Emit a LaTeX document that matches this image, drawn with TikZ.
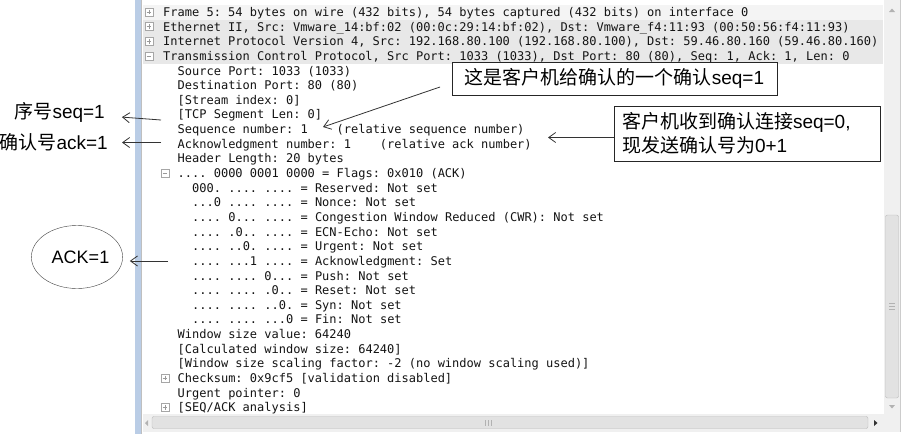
\documentclass[tikz,border=0pt]{standalone}
\usepackage{fontspec}
\setmainfont{Liberation Sans}
\setmonofont{DejaVu Sans Mono}
\newfontfamily\cjk{Noto Sans CJK SC}
\usepackage{xcolor}
\usepackage{tikz}
\usetikzlibrary{
	arrows.meta,
	calc,
	positioning,
	shapes.geometric,
	}
\definecolor{barblue}{HTML}{BACDE6}
\definecolor{rowgray}{HTML}{E8E8E8}
\definecolor{sbtrack}{HTML}{F0F0F0}
\definecolor{sbthumb}{HTML}{E2E2E2}
\newcommand{\lat}[1]{{\rmfamily #1}}
\tikzset{
	pkt/.style={anchor=base west, inner sep=0, font=\fontsize{12}{14}\ttfamily, text=black!92},
	expander/.style={draw=gray!70, fill=white, minimum size=8pt, inner sep=0},
	callout/.style={draw=black!85, fill=white, line width=0.8pt, font=\fontsize{19}{24}\cjk},
	sidelabel/.style={inner sep=0, font=\fontsize{19}{24}\cjk},
	pointer/.style={draw=black!80, line width=0.8pt, -{Straight Barb[length=7pt,width=10pt]}},
	}

\begin{document}
\begin{tikzpicture}[x=1pt, y=-1pt]
		\useasboundingbox (0,0) rectangle (902,434);
		\fill[white] (0,0) rectangle (902,434);
		\fill[barblue] (135,0) rectangle (141.5,434);
		\draw[gray!50] (141.5,0) -- (141.5,434);
		\fill[rowgray!50] (143,5) rectangle (883,19.6);
		\foreach \n in {1,2,3}
			\fill[rowgray] (143,{16.5+14.64*\n-11.5}) rectangle (883,{16.5+14.64*\n+3.1});
		\foreach \n/\x/\txt in {
			0/163/{Frame 5: 54 bytes on wire (432 bits), 54 bytes captured (432 bits) on interface 0},
			1/163/{Ethernet II, Src: Vmware\_14:bf:02 (00:0c:29:14:bf:02), Dst: Vmware\_f4:11:93 (00:50:56:f4:11:93)},
			2/163/{Internet Protocol Version 4, Src: 192.168.80.100 (192.168.80.100), Dst: 59.46.80.160 (59.46.80.160)},
			3/163/{Transmission Control Protocol, Src Port: 1033 (1033), Dst Port: 80 (80), Seq: 1, Ack: 1, Len: 0},
			4/177.5/{Source Port: 1033 (1033)},
			5/177.5/{Destination Port: 80 (80)},
			6/177.5/{[Stream index: 0]},
			7/177.5/{[TCP Segment Len: 0]},
			8/177.5/{Sequence number: 1\ \ \ \ (relative sequence number)},
			9/177.5/{Acknowledgment number: 1\ \ \ \ (relative ack number)},
			10/177.5/{Header Length: 20 bytes},
			11/177.5/{.... 0000 0001 0000 = Flags: 0x010 (ACK)},
			12/192/{000. .... .... = Reserved: Not set},
			13/192/{...0 .... .... = Nonce: Not set},
			14/192/{.... 0... .... = Congestion Window Reduced (CWR): Not set},
			15/192/{.... .0.. .... = ECN-Echo: Not set},
			16/192/{.... ..0. .... = Urgent: Not set},
			17/192/{.... ...1 .... = Acknowledgment: Set},
			18/192/{.... .... 0... = Push: Not set},
			19/192/{.... .... .0.. = Reset: Not set},
			20/192/{.... .... ..0. = Syn: Not set},
			21/192/{.... .... ...0 = Fin: Not set},
			22/177.5/{Window size value: 64240},
			23/177.5/{[Calculated window size: 64240]},
			24/177.5/{[Window size scaling factor: -2 (no window scaling used)]},
			25/177.5/{Checksum: 0x9cf5 [validation disabled]},
			26/177.5/{Urgent pointer: 0},
			27/177.5/{[SEQ/ACK analysis]}}
			\node[pkt] (line\n) at ({\x},{16.5+14.64*\n}) {\txt};
		\foreach \n/\x/\m in {0/149/1, 1/149/1, 2/149/1, 3/149/0, 11/165/0, 25/165/1, 27/165/1} {
			\node[expander] (exp\n) at ({\x},{16.5+14.64*\n-4.5}) {};
			\draw[gray!80, line width=0.6pt] (exp\n.center) +(-2.3,0) -- +(2.3,0);
			\ifnum\m=1 \draw[gray!80, line width=0.6pt] (exp\n.center) +(0,-2.3) -- +(0,2.3); \fi
		}
		\fill[sbtrack] (884,0) rectangle (900,432);
		\fill[sbtrack] (143,414) rectangle (900,432);
		\draw[gray!40] (900,0) -- (900,432);
		\fill[gray!60] (889,12) -- (895,12) -- (892,8.5) -- cycle;
		\fill[gray!60] (889,405) -- (895,405) -- (892,408.5) -- cycle;
		\draw[rounded corners=2pt, draw=gray!55, fill=sbthumb] (885.5,215) rectangle (898.5,398);
		\foreach \yy in {303,306,309}
			\draw[gray!60] (889,\yy) -- (895,\yy);
		\fill[gray!60] (148,420) -- (148,426) -- (145,423) -- cycle;
		\draw[rounded corners=2pt, draw=gray!55, fill=sbthumb] (152,416.5) rectangle (868,428.5);
		\foreach \xx in {485,488,491}
			\draw[gray!60] (\xx,420) -- (\xx,425.5);
		\fill[black!80] (874,420) -- (874,426) -- (877.5,423) -- cycle;
		\node[callout, minimum width=325pt, minimum height=33pt, inner sep=0] (seqnote) at (614.5,78.5) {这是客户机给确认的一个确认\lat{seq=1}};
		\node[callout, text width=250pt, inner xsep=8pt, minimum height=55pt, align=left] (acknote) at (747,133.5) {客户机收到确认连接\lat{seq=0,}\\现发送确认号为\lat{0+1}};
		\node[sidelabel, anchor=east] (seqlbl) at (105,112.5) {序号\lat{seq=1}};
		\node[sidelabel, anchor=east] (acklbl) at (108,142.5) {确认号\lat{ack=1}};
		\node[draw=black!75, ellipse, minimum width=77pt, minimum height=63pt, inner sep=0, font=\fontsize{18}{20}\rmfamily] (ackell) at (77,257) {\hspace*{7pt}\raisebox{-4pt}{ACK=1}};
		\coordinate (seqfrom) at (440,87);
		\coordinate (seqtip) at (323,127);
		\coordinate (acktip) at (548,137.5);
		\coordinate (seqsrc) at (161,120);
		\coordinate (acksrc) at (161,142.5);
		\coordinate (ackflag) at (168,261);
		\draw[pointer] (seqfrom) -- (seqtip);
		\draw[pointer] (acktip -| acknote.west) -- (acktip);
		\draw[pointer, shorten >=17pt] (seqsrc) -- (seqlbl);
		\draw[pointer, shorten >=14pt] (acksrc) -- (acklbl);
		\draw[pointer, shorten >=7pt] (ackflag) -- (ackflag -| ackell.east);
	\end{tikzpicture}
\end{document}
